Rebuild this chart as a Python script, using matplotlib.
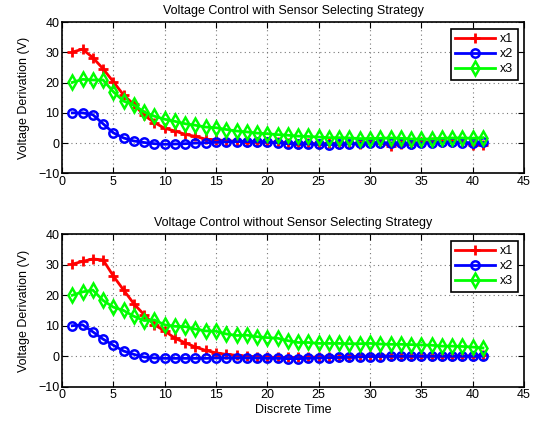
import numpy as np
import matplotlib
matplotlib.use("Agg")
import matplotlib.pyplot as plt

plt.rcParams['font.family'] = ['Liberation Sans', 'DejaVu Sans']
plt.rcParams['font.size'] = 9
plt.rcParams['axes.unicode_minus'] = True

# -------------------------------
# Data
# -------------------------------
t = np.arange(1, 42)

top_x1 = [30.1, 31.1, 28.3, 24.6, 20.3, 15.9, 12.8, 9.2, 6.8, 4.9, 4.0, 2.9, 2.2, 1.3, 1.1,
          0.8, 0.6, 0.5, 0.5, 0.3, 0.3, 0.0, -0.2, 0.1, -0.4, 0.0, -0.2, 0.1, -0.3, 0.2,
          0.0, -0.8, -0.3, -0.4, 0.3, 0.5, 0.2, 0.4, 0.2, -0.6, -0.5]
top_x2 = [10.0, 10.0, 9.4, 6.4, 3.4, 1.7, 0.7, 0.2, -0.2, -0.4, -0.3, -0.2, 0.0, 0.1, 0.3,
          0.4, 0.5, 0.5, 0.4, 0.3, 0.1, -0.2, -0.3, -0.3, -0.4, -0.5, -0.4, -0.3, -0.1, 0.0,
          0.1, 0.0, -0.1, -0.2, 0.0, 0.1, 0.2, 0.2, 0.1, 0.1, 0.2]
top_x3 = [20.1, 21.1, 20.9, 20.9, 17.0, 13.9, 12.6, 10.3, 8.9, 7.9, 7.2, 6.4, 5.9, 5.3, 5.1,
          4.5, 4.0, 3.7, 3.3, 3.1, 2.8, 2.6, 2.3, 2.2, 2.0, 1.8, 1.8, 1.7, 1.5, 1.5,
          1.6, 1.7, 1.6, 1.4, 1.3, 1.4, 1.6, 1.7, 1.7, 1.6, 1.8]

bot_x1 = [30.2, 31.1, 31.9, 31.6, 26.3, 21.7, 17.2, 13.6, 10.3, 8.3, 5.9, 4.4, 3.0, 1.9, 1.1,
          0.6, 0.3, 0.0, -0.2, -0.3, -0.4, -0.4, -0.4, -0.3, -0.3, -0.2, -0.2, -0.1, 0.0, 0.0,
          0.1, 0.1, 0.1, 0.1, 0.1, 0.1, 0.1, 0.1, 0.1, 0.1, 0.4]
bot_x2 = [10.0, 10.3, 8.0, 5.6, 3.6, 1.7, 0.6, -0.3, -0.6, -0.7, -0.7, -0.7, -0.7, -0.7, -0.6,
          -0.6, -0.6, -0.6, -0.6, -0.7, -0.7, -0.8, -0.8, -0.7, -0.6, -0.5, -0.4, -0.3, -0.2, -0.1,
          -0.1, 0.0, 0.0, 0.0, 0.0, 0.0, 0.0, 0.0, 0.0, 0.0, 0.0]
bot_x3 = [20.0, 21.1, 21.7, 18.3, 16.1, 15.0, 13.1, 11.7, 11.9, 10.3, 9.8, 9.7, 8.9, 8.3, 8.2,
          7.3, 6.8, 6.9, 6.4, 6.1, 5.9, 5.1, 4.5, 4.5, 4.2, 4.2, 4.2, 4.1, 4.1, 4.2,
          4.0, 3.9, 3.9, 3.8, 3.7, 3.6, 3.3, 3.3, 3.2, 3.0, 2.7]

titles = ["Voltage Control with Sensor Selecting Strategy",
          "Voltage Control without Sensor Selecting Strategy"]
panels = [(top_x1, top_x2, top_x3), (bot_x1, bot_x2, bot_x3)]

# -------------------------------
# Figure
# -------------------------------
fig = plt.figure(figsize=(5.45, 4.26), dpi=100)
rects = [[0.1138, 0.5932, 0.8477, 0.3545], [0.1138, 0.0923, 0.8477, 0.3577]]

for rect, title, (x1, x2, x3) in zip(rects, titles, panels):
    ax = fig.add_axes(rect)
    ax.plot(t, x1, color='#ff0000', lw=2, marker='+', ms=6.5, mew=2, label='x1')
    ax.plot(t, x2, color='#0000ff', lw=2, marker='o', ms=6, mew=1.8,
            mfc='none', label='x2')
    ax.plot(t, x3, color='#00ff00', lw=2, marker='d', ms=7, mew=1.8,
            mfc='none', label='x3')
    ax.set_xlim(0, 45)
    ax.set_ylim(-10, 40)
    ax.set_xticks(np.arange(0, 46, 5))
    ax.set_yticks(np.arange(-10, 41, 10))
    ax.grid(True, linestyle=(0, (1, 3)), color='#777777', lw=0.8)
    ax.tick_params(direction='in', top=True, right=True, length=4, width=0.8,
                   labelsize=9, pad=2)
    for s in ax.spines.values():
        s.set_linewidth(1.2)
    ax.set_title(title, fontsize=9, pad=6)
    ax.set_ylabel("Voltage Derivation (V)", fontsize=9, labelpad=6)
    leg = ax.legend(loc='upper right', fontsize=9, fancybox=False, framealpha=1,
                    edgecolor='black', handlelength=3.2, borderaxespad=0.5,
                    labelspacing=0.25, borderpad=0.35, handletextpad=0.4)
    leg.get_frame().set_linewidth(1.2)

ax.set_xlabel("Discrete Time", fontsize=9, labelpad=2)

fig.savefig("out.png", dpi=100)
